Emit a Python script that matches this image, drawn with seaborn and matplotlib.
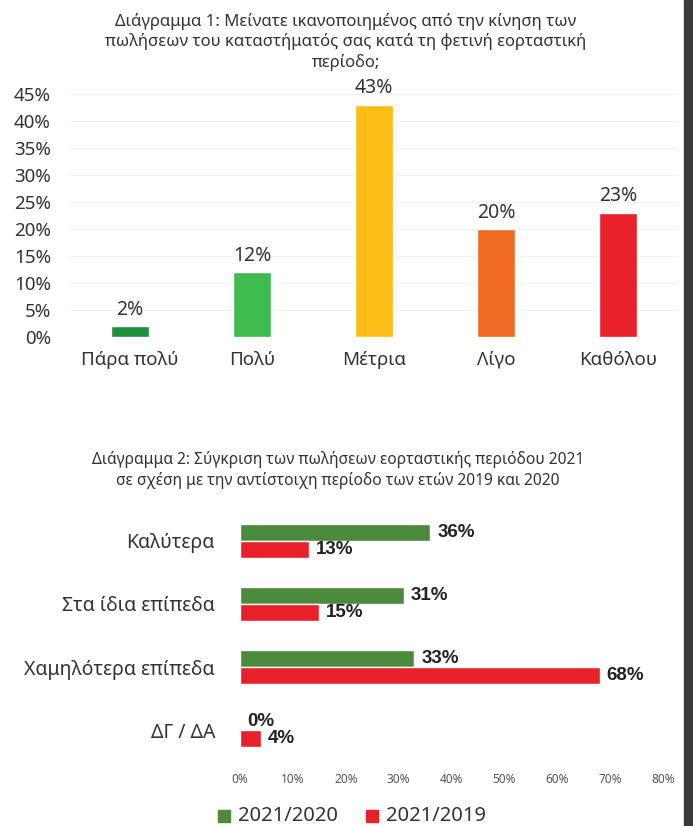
import matplotlib
matplotlib.use("Agg")
import matplotlib.pyplot as plt
import seaborn as sns
import pandas as pd
from matplotlib.patches import Rectangle

sns.set_theme(style="white")
plt.rcParams['font.family'] = ['Noto Sans', 'DejaVu Sans']

# ---- data chart 1 ----
cat1 = ["Πάρα πολύ", "Πολύ", "Μέτρια", "Λίγο", "Καθόλου"]
val1 = [2, 12, 43, 20, 23]
col1 = ["#1f8f3f", "#3fbb4f", "#fbbd16", "#f06a22", "#e8202a"]
yticks1 = [0, 5, 10, 15, 20, 25, 30, 35, 40, 45]
title1 = "Διάγραμμα 1: Μείνατε ικανοποιημένος από την κίνηση των\nπωλήσεων του καταστήματός σας κατά τη φετινή εορταστική\nπερίοδο;"

# ---- data chart 2 ----
cat2 = ["Καλύτερα", "Στα ίδια επίπεδα", "Χαμηλότερα επίπεδα", "ΔΓ / ΔΑ"]
series2 = ["2021/2020", "2021/2019"]
val_2020 = [36, 31, 33, 0]
val_2019 = [13, 15, 68, 4]
col2 = ["#4b8a3b", "#e8202a"]
xticks2 = [0, 10, 20, 30, 40, 50, 60, 70, 80]
title2 = "Διάγραμμα 2: Σύγκριση των πωλήσεων εορταστικής περιόδου 2021\nσε σχέση με την αντίστοιχη περίοδο των ετών 2019 και 2020"

W, H = 693, 826
fig = plt.figure(figsize=(W / 100, H / 100), dpi=100)
fig.patch.set_facecolor("white")

def fx(px):
    return px / W

def fy(py):
    return 1 - py / H

# ---------------- Chart 1 ----------------
ax1 = fig.add_axes([fx(69), fy(337), fx(679) - fx(69), fy(94) - fy(337)])
df1 = pd.DataFrame({"cat": cat1, "val": val1})
sns.barplot(data=df1, x="cat", y="val", hue="cat", palette=col1, legend=False,
            width=0.31, ax=ax1, saturation=1)
ax1.set_ylim(0, 45)
ax1.set_xlim(-0.5, 4.5)
ax1.set_yticks(yticks1)
ax1.set_yticklabels([f"{v}%" for v in yticks1], fontsize=13.5, color="#333333")
ax1.tick_params(axis="y", length=0, pad=13)
ax1.tick_params(axis="x", length=0, pad=10, labelsize=13.5, colors="#333333")
ax1.set_xlabel("")
ax1.set_ylabel("")
for s in ax1.spines.values():
    s.set_visible(False)
ax1.yaxis.grid(True, color="#f3f3f3", linewidth=0.8)
ax1.set_axisbelow(True)
for i, v in enumerate(val1):
    ax1.text(i, v + 1.2, f"{v}%", ha="center", va="bottom", fontsize=14,
             color="#333333", clip_on=False)
fig.text(fx(346), fy(42), title1, ha="center", va="center", fontsize=12,
         color="#333333", linespacing=1.25)

# ---------------- Chart 2 ----------------
ax2 = fig.add_axes([fx(240), fy(762), fx(663) - fx(240), fy(509) - fy(762)])
df2 = pd.DataFrame({
    "cat": cat2 * 2,
    "series": [series2[0]] * len(cat2) + [series2[1]] * len(cat2),
    "val": val_2020 + val_2019,
})
sns.barplot(data=df2, y="cat", x="val", hue="series", palette=col2, orient="h",
            width=0.54, ax=ax2, saturation=1, legend=False)
ax2.set_xlim(0, 80)
ax2.set_xticks(xticks2)
ax2.set_xticklabels([f"{v}%" for v in xticks2], fontsize=8.5, color="#555555")
ax2.tick_params(axis="x", length=0, pad=8)
ax2.tick_params(axis="y", length=0, pad=18, labelsize=14, colors="#333333")
ax2.set_xlabel("")
ax2.set_ylabel("")
for s in ax2.spines.values():
    s.set_visible(False)
for cont in ax2.containers:
    for bar in cont:
        w = bar.get_width()
        yc = bar.get_y() + bar.get_height() / 2
        ax2.text(w + 1.3, yc, f"{w:.0f}%", ha="left", va="center",
                 fontsize=13.5, fontweight="bold", color="#222222", clip_on=False,
                 family=["Liberation Sans", "DejaVu Sans"])
fig.text(fx(338), fy(470), title2, ha="center", va="center", fontsize=11.2,
         color="#333333", linespacing=1.35)

# legend
ly = fy(816)
for x0, c, lab in [(218, col2[0], series2[0]), (366, col2[1], series2[1])]:
    fig.patches.append(Rectangle((fx(x0), ly - 0.0075), fx(12), 0.015,
                                 transform=fig.transFigure, color=c))
    fig.text(fx(x0 + 20), ly, lab, ha="left", va="center", fontsize=14.5,
             color="#333333")

# scanned page edge on the right
fig.patches.append(Rectangle((fx(684), 0), fx(9), 1, transform=fig.transFigure,
                             color="#3a3a3a"))

fig.savefig("out.png", dpi=100, facecolor="white")
